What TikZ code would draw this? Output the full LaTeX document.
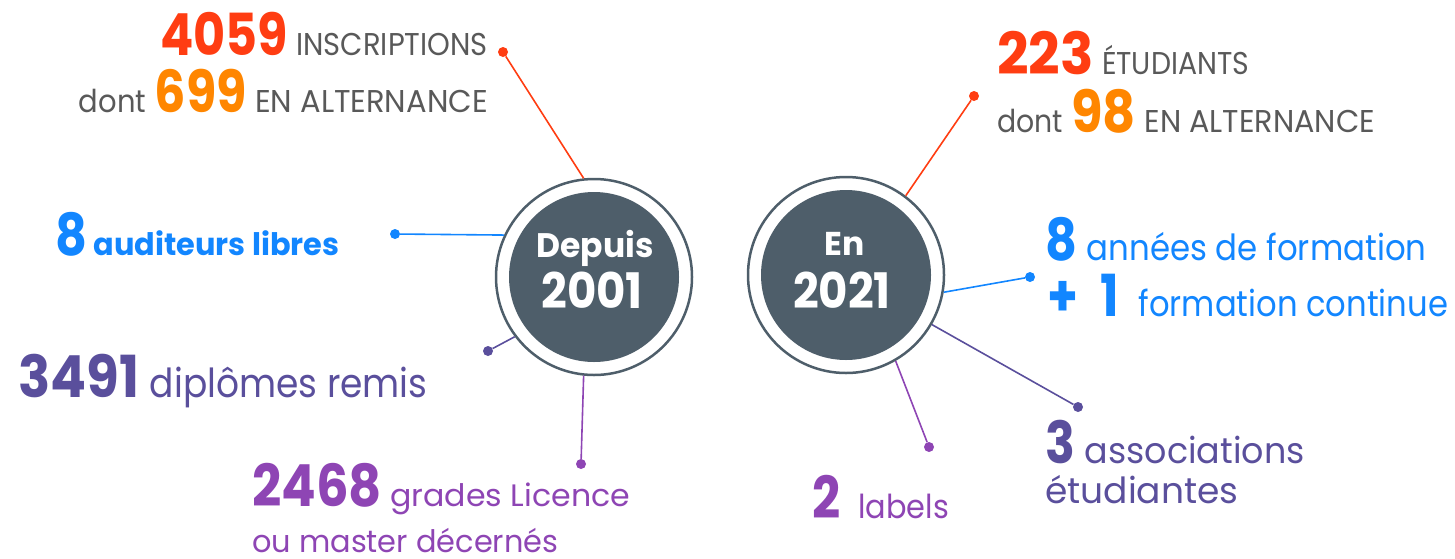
\documentclass[tikz,border=0pt]{standalone}
\usepackage{graphicx}
\usepackage{fontspec}
\setmainfont{Poppins}
\newfontfamily\numfamily[FakeStretch=0.85]{Poppins}
\usetikzlibrary{positioning}

\definecolor{numred}{HTML}{FF3D12}
\definecolor{numorange}{HTML}{FF8600}
\definecolor{txtgray}{HTML}{595959}
\definecolor{statblue}{HTML}{1286FF}
\definecolor{statpurple}{HTML}{5A4F9C}
\definecolor{statviolet}{HTML}{8E45B4}
\definecolor{ringgray}{HTML}{4E5E6A}

\newcommand\bignum[2]{{\color{#1}\fontsize{58}{58}\numfamily\bfseries #2}}
\newcommand\txtsize[1]{\fontsize{#1}{#1}\selectfont}
\newcommand\sq[2]{\scalebox{#1}[1]{#2}}

\begin{document}
\begin{tikzpicture}[x=1pt,y=-1pt,
    ring/.style={circle,draw=ringgray,line width=2.5pt,minimum size=196pt,inner sep=0pt,
      path picture={\fill[ringgray] (path picture bounding box.center) circle (85pt);}},
    dot/.style={circle,fill=#1,inner sep=0pt,minimum size=10pt},
    link/.style={draw=#1,line width=1.6pt},
    txt/.style={inner sep=0pt,anchor=base west,text=#1},
    yeartxt/.style={inner sep=0pt,anchor=base,text=white,font=\bfseries\txtsize{#1}}]
\useasboundingbox (0,0) rectangle (1455,558);

% the two circles
\node[ring] (since) at (594,277) {};
\node[ring] (now) at (846,275) {};
\node[yeartxt=34] (sinceA) at (595,257) {\sq{0.97}{Depuis}};
\node[yeartxt=49] (sinceB) at (592,308) {\sq{0.92}{2001}};
\node[yeartxt=33] (nowA) at (845,255) {En};
\node[yeartxt=49] (nowB) at (842,308) {\sq{0.92}{2021}};

% left side figures
\node[txt=txtgray,anchor=base east,font=\txtsize{31.5}] (inscr) at (488,55) {\bignum{numred}{4059} \sq{0.92}{INSCRIPTIONS}};
\node[txt=txtgray,anchor=base east,font=\txtsize{31.5}] (inscrAlt) at (488,112) {\sq{0.92}{dont} \bignum{numorange}{699} \sq{0.97}{EN ALTERNANCE}};
\node[txt=statblue,font=\bfseries\txtsize{31}] (listen) at (55,255) {\bignum{statblue}{8} \sq{0.98}{auditeurs libres}};
\node[txt=statpurple,font=\txtsize{40}] (dipl) at (18,397) {\bignum{statpurple}{\sq{1.08}{3491}} \sq{0.9}{diplômes remis}};
\node[txt=statviolet,font=\txtsize{31}] (grades) at (252,506) {\bignum{statviolet}{\sq{1.04}{2468}} \sq{1.02}{grades Licence}};
\node[txt=statviolet,font=\txtsize{31}] (gradesB) at (252,552) {\sq{0.98}{ou master décernés}};

% right side figures
\node[txt=txtgray,font=\txtsize{31.5}] (stud) at (997,74) {\bignum{numred}{\sq{1.12}{223}} \sq{0.9}{ÉTUDIANTS}};
\node[txt=txtgray,font=\txtsize{31.5}] (studAlt) at (997,132) {\sq{0.9}{dont} \bignum{numorange}{\sq{1.04}{98}} \sq{0.96}{EN ALTERNANCE}};
\node[txt=statblue,font=\txtsize{36}] (years) at (1045,260) {\bignum{statblue}{8} \sq{0.9}{années de formation}};
\node[txt=statblue,font=\txtsize{36}] (yearsB) at (1047,316) {\bignum{statblue}{+\hspace{22pt}1}\hspace{20pt}\sq{0.895}{formation continue}};
\node[txt=statpurple,font=\txtsize{36}] (assoc) at (1045,463) {\bignum{statpurple}{3} \sq{0.97}{associations}};
\node[txt=statpurple,font=\txtsize{36}] (assocB) at (1045,503) {étudiantes};
\node[txt=statviolet,font=\txtsize{33}] (labels) at (812,518) {\bignum{statviolet}{2}\hspace{18pt}\sq{0.92}{labels}};

% dots
\node[dot=numred] (dInscr) at (503,52) {};
\node[dot=statblue] (dListen) at (395,234) {};
\node[dot=statpurple] (dDipl) at (488,351) {};
\node[dot=statviolet] (dGrades) at (581,464) {};
\node[dot=numred] (dStud) at (974,96) {};
\node[dot=statblue] (dYears) at (1030,277) {};
\node[dot=statpurple] (dAssoc) at (1078,407) {};
\node[dot=statviolet] (dLabels) at (929,447) {};

% connectors
\draw[link=numred] (dInscr) -- (since.96);
\draw[link=statblue] (dListen) -- (since.155);
\draw[link=statpurple] (dDipl) -- (since.217);
\draw[link=statviolet] (dGrades) -- (since.264);
\draw[link=numred] (dStud) -- (now.53);
\draw[link=statblue] (dYears) -- (now.350);
\draw[link=statpurple] (dAssoc) -- (now.330);
\draw[link=statviolet] (dLabels) -- (now.300);
\end{tikzpicture}
\end{document}
